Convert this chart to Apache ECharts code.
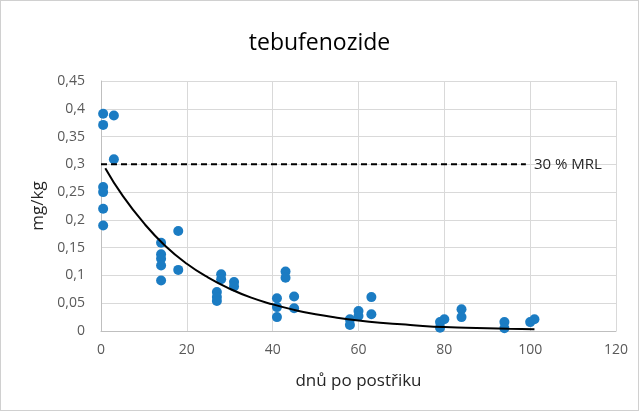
<!DOCTYPE html>
<html>
<head>
<meta charset="utf-8">
<script src="https://cdn.jsdelivr.net/npm/echarts@6/dist/echarts.min.js"></script>
<style>
  html, body { margin: 0; padding: 0; background: #fff; }
  #chart { width: 639px; height: 411px; box-sizing: border-box; border: 1px solid #d0d0d0; }
</style>
</head>
<body>
<div id="chart"></div>
<script>
// měřené hodnoty [den, mg/kg]
var points = [
  [0.5, 0.391], [3, 0.388], [0.5, 0.371], [3, 0.309],
  [0.5, 0.259], [0.5, 0.25], [0.5, 0.22], [0.5, 0.19],
  [14, 0.159], [14, 0.138], [14, 0.13], [14, 0.118], [14, 0.091],
  [18, 0.18], [18, 0.11],
  [27, 0.07], [27, 0.061], [27, 0.054], [28, 0.102], [28, 0.093],
  [31, 0.088], [31, 0.08],
  [41, 0.059], [41, 0.043], [41, 0.025], [43, 0.107], [43, 0.096],
  [45, 0.062], [45, 0.041],
  [58, 0.021], [58, 0.011], [60, 0.036], [60, 0.027],
  [63, 0.061], [63, 0.03],
  [79, 0.016], [79, 0.006], [80, 0.021], [84, 0.039], [84, 0.025],
  [94, 0.016], [94, 0.005], [100, 0.016], [101, 0.021]
];
// spojnice trendu
var trendX = [1, 5, 10, 15, 20, 25, 30, 35, 40, 45, 50, 55, 60, 65, 70, 75, 80, 85, 90, 95, 101];
var trendY = [0.293, 0.244, 0.194, 0.153, 0.121, 0.096, 0.076, 0.060, 0.048, 0.038, 0.030,
              0.024, 0.019, 0.015, 0.012, 0.009, 0.007, 0.006, 0.005, 0.004, 0.003];
var mrlValue = 0.3;
var mrlX = [0, 99];
var mrlLabel = '30 % MRL';

var font = '"Open Sans", "Noto Sans", sans-serif';
var myChart = echarts.init(document.getElementById('chart'));
var option = {
  animation: false,
  title: {
    text: 'tebufenozide',
    left: 'center',
    top: 26,
    textStyle: { fontFamily: font, fontSize: 23, fontWeight: 'normal', color: '#000' }
  },
  grid: { left: 100, right: 22, top: 80, bottom: 79 },
  xAxis: {
    type: 'value',
    min: 0, max: 120, interval: 20,
    name: 'dnů po postřiku',
    nameLocation: 'middle',
    nameGap: 42,
    nameTextStyle: { fontFamily: font, fontSize: 17, color: '#262626' },
    axisLine: { lineStyle: { color: '#bfbfbf' } },
    axisTick: { show: false },
    axisLabel: { fontFamily: font, fontSize: 14, color: '#595959', margin: 12 },
    splitLine: { show: true, lineStyle: { color: '#d9d9d9', width: 1 } }
  },
  yAxis: {
    type: 'value',
    min: 0, max: 0.45, interval: 0.05,
    name: 'mg/kg',
    nameLocation: 'middle',
    nameGap: 48,
    nameTextStyle: { fontFamily: font, fontSize: 17, color: '#262626' },
    axisLine: { show: true, lineStyle: { color: '#bfbfbf' } },
    axisTick: { show: false },
    axisLabel: {
      fontFamily: font, fontSize: 14, color: '#595959', margin: 16,
      formatter: function (v) { return String(+v.toFixed(2)).replace('.', ','); }
    },
    splitLine: { show: true, lineStyle: { color: '#d9d9d9', width: 1 } }
  },
  series: [
    {
      type: 'line',
      data: mrlX.map(function (x) { return [x, mrlValue]; }),
      symbol: 'none',
      lineStyle: { color: '#000', width: 2, type: [6, 4] },
      endLabel: {
        show: true,
        formatter: mrlLabel,
        fontFamily: font, fontSize: 15, color: '#262626', distance: 8
      },
      z: 3
    },
    {
      type: 'line',
      data: trendX.map(function (x, i) { return [x, trendY[i]]; }),
      smooth: true,
      symbol: 'none',
      lineStyle: { color: '#000', width: 2 },
      z: 3
    },
    {
      type: 'scatter',
      data: points,
      symbol: 'circle',
      symbolSize: 10,
      itemStyle: { color: '#1b7cc3', opacity: 1 },
      z: 2
    }
  ]
};
myChart.setOption(option);
</script>
</body>
</html>
